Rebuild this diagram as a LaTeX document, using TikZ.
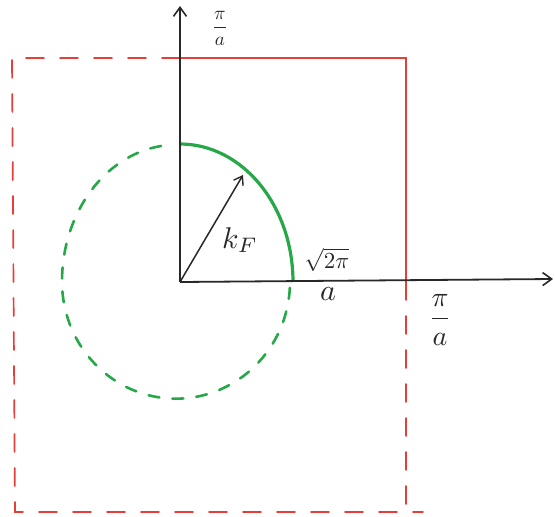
\documentclass[tikz,border=0pt]{standalone}
\usepackage{amsmath}
\usetikzlibrary{arrows.meta}
\definecolor{penred}{RGB}{232,62,58}
\definecolor{pengreen}{RGB}{38,168,72}
\definecolor{penblack}{RGB}{40,40,40}
\tikzset{
  axis/.style={penblack,line width=1.8pt,-{Straight Barb[length=9pt,width=13pt,line width=1.6pt]}},
  zone/.style={penred,line width=1.7pt,line cap=round},
  zonedash/.style={zone,dash pattern=on 18pt off 16pt},
  fermi/.style={pengreen,line width=3.2pt},
  fermidash/.style={pengreen,line width=2.6pt,line cap=round,dash pattern=on 11pt off 13pt},
  lab/.style={penblack,inner sep=0pt}
}
\begin{document}
\begin{tikzpicture}[x=1pt,y=-1pt]
\useasboundingbox (0,0) rectangle (555,517);
\coordinate (O) at (180,282);
\coordinate (ytip) at (180,6);
\coordinate (xtip) at (553,279);
\coordinate (TL) at (12,58);
\coordinate (TM) at (180,58);
\coordinate (TR) at (406,58);
\coordinate (RM) at (406,282);
\coordinate (BR) at (406,506);
\coordinate (BL) at (15,512);
\coordinate (BE) at (423,512);
\coordinate (kF) at (243,175);
% red zone
\draw[zone] (TM) -- (TR) -- (RM);
\draw[zonedash] (TM) -- (TL) -- (BL) -- (BE);
\draw[zonedash] (RM) -- (BR);
% green Fermi circle
\draw[fermi] (180,144) arc[start angle=90,end angle=0,x radius=113pt,y radius=138pt];
\draw[fermidash] (161,146) arc[start angle=98,end angle=180,x radius=115pt,y radius=137pt]
  arc[start angle=180,end angle=358,x radius=114pt,y radius=117pt];
% axes
\draw[axis] (O) -- (ytip);
\draw[axis] (O) -- (xtip);
\draw[penblack,line width=1.5pt,-{Straight Barb[length=8pt,width=11pt,line width=1.4pt]}] (O) -- (kF);
% labels
\node[lab,scale=3] (kFlab) at (240,240) {$k_F$};
\node[lab,scale=2.3] (sq) at (327,260) {$\sqrt{2\pi}$};
\node[lab,scale=3] (sqa) at (328,294) {$a$};
\node[lab,scale=2.8] (pia) at (440,320) {$\dfrac{\pi}{a}$};
\node[lab,scale=1.9] (piatop) at (220,28) {$\dfrac{\pi}{a}$};
\end{tikzpicture}
\end{document}
